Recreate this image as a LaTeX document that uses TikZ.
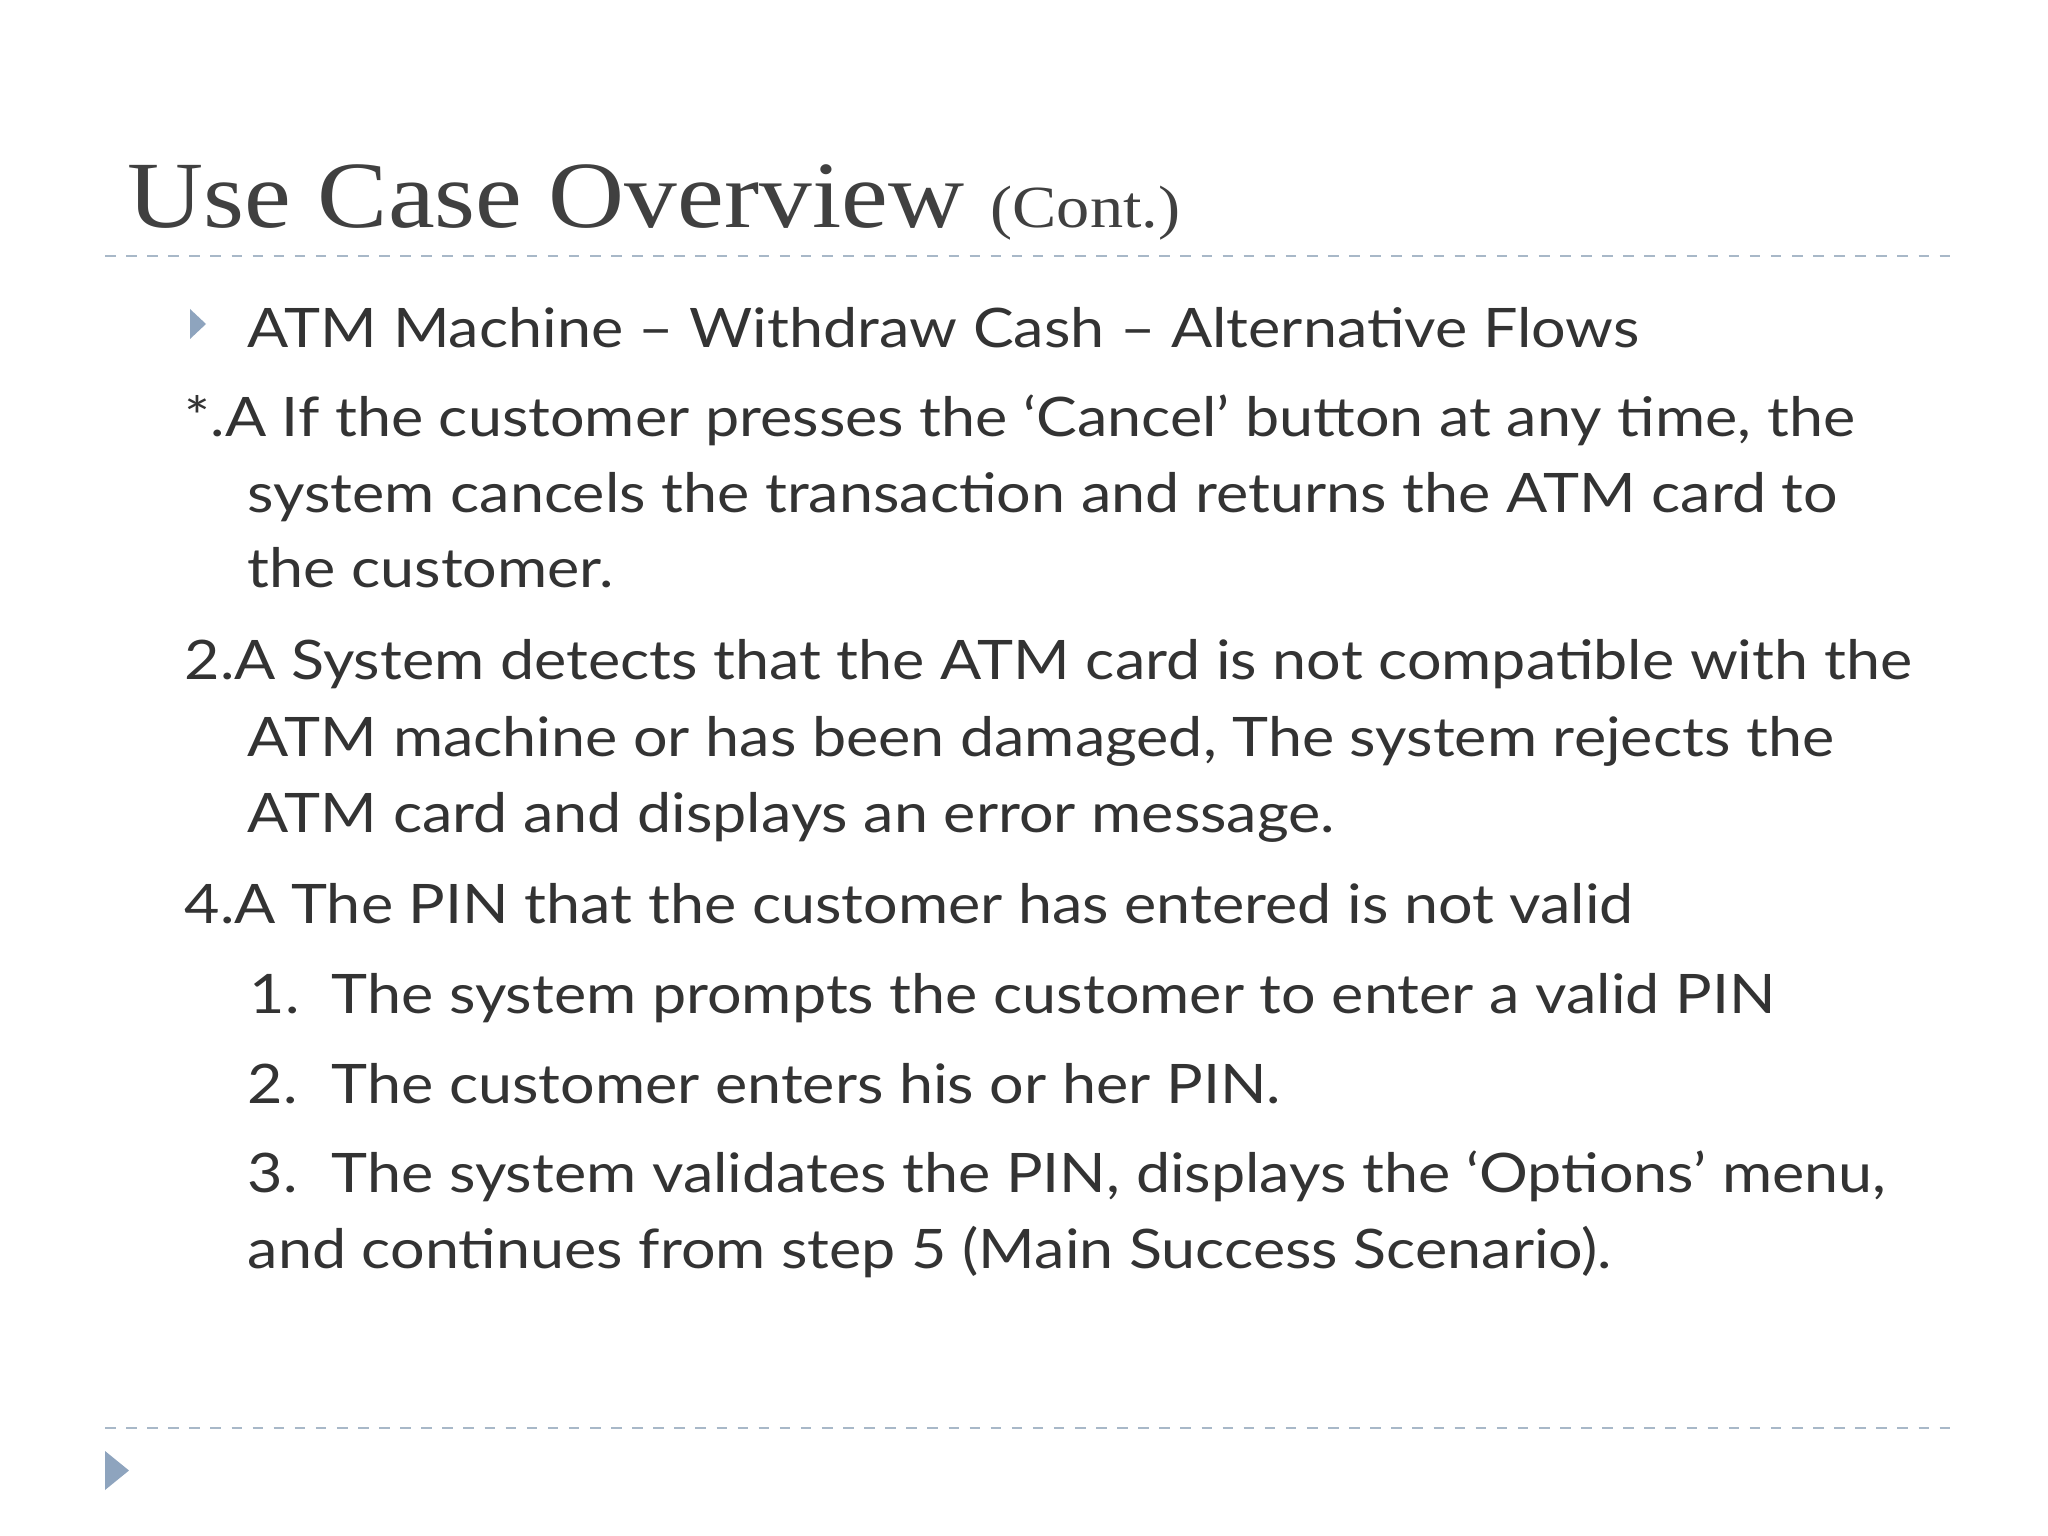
\documentclass[tikz,border=0pt]{standalone}
\usepackage{fontspec}
\setmainfont{Lato}[FakeStretch=1.12]
\newfontfamily\titlefont{Liberation Serif}[FakeStretch=1.11]
\definecolor{bodyc}{HTML}{333333}
\definecolor{titlec}{HTML}{404040}
\definecolor{linec}{HTML}{A8B8C8}
\definecolor{tric}{HTML}{8EA4BE}
\begin{document}
\begin{tikzpicture}[x=1cm,y=1cm,
  body/.style={anchor=base west,inner sep=0pt,text=bodyc,font=\fontsize{15.5}{18}\selectfont},
  sep/.style={draw=linec,dashed,line width=0.6pt}]
\useasboundingbox (0,0) rectangle (20.48,-15.36);
\fill[white] (0,0) rectangle (20.48,-15.36);
\node[anchor=base west,inner sep=0pt,text=titlec] (title) at (1.27,-2.28)
  {\titlefont\fontsize{27}{30}\selectfont Use Case Overview \fontsize{17}{20}\selectfont(Cont.)};
\coordinate (l1a) at (1.05,-2.56); \coordinate (l1b) at (19.56,-2.56);
\draw[sep] (l1a) -- (l1b);
\coordinate (l2a) at (1.05,-14.28); \coordinate (l2b) at (19.56,-14.28);
\draw[sep] (l2a) -- (l2b);
\fill[tric] (1.05,-14.51) -- (1.29,-14.705) -- (1.05,-14.90) -- cycle;
\fill[tric] (1.90,-3.09) -- (2.06,-3.24) -- (1.90,-3.39) -- cycle;
\node[body] (h) at (2.47,-3.48) {ATM Machine – Withdraw Cash – Alternative Flows};
\node[body] (a1) at (1.84,-4.37) {*.A If the customer presses the ‘Cancel’ button at any time, the};
\node[body] (a2) at (2.47,-5.12) {system cancels the transaction and returns the ATM card to};
\node[body] (a3) at (2.47,-5.88) {the customer.};
\node[body] (b1) at (1.84,-6.80) {2.A System detects that the ATM card is not compatible with the};
\node[body] (b2) at (2.47,-7.56) {ATM machine or has been damaged, The system rejects the};
\node[body] (b3) at (2.47,-8.32) {ATM card and displays an error message.};
\node[body] (c1) at (1.84,-9.23) {4.A The PIN that the customer has entered is not valid};
\node[body] (n1) at (2.49,-10.13) {1.};
\node[body] (t1) at (3.31,-10.13) {The system prompts the customer to enter a valid PIN};
\node[body] (n2) at (2.47,-11.03) {2.};
\node[body] (t2) at (3.31,-11.03) {The customer enters his or her PIN.};
\node[body] (n3) at (2.47,-11.92) {3.};
\node[body] (t3) at (3.31,-11.92) {The system validates the PIN, displays the ‘Options’ menu,};
\node[body] (t4) at (2.47,-12.68) {and continues from step 5 (Main Success Scenario).};
\end{tikzpicture}
\end{document}
